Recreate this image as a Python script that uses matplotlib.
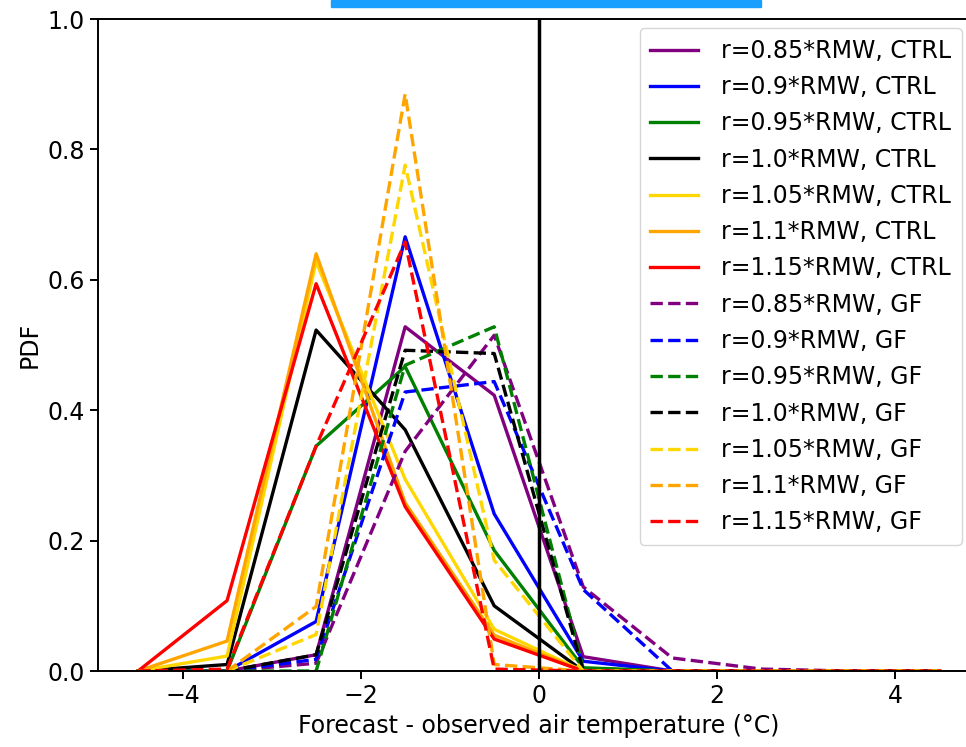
import numpy as np
import matplotlib
matplotlib.use("Agg")
import matplotlib.pyplot as plt
from matplotlib.patches import Rectangle

# bin centres (degC)
bins = [-4.5, -3.5, -2.5, -1.5, -0.5, 0.5, 1.5, 2.5, 3.5, 4.5]

radii = ["0.85", "0.9", "0.95", "1.0", "1.05", "1.1", "1.15"]
colors = ["purple", "blue", "green", "black", "gold", "orange", "red"]

# CTRL pdfs
ctrl_085 = [0.0, 0.0, 0.025, 0.528, 0.423, 0.022, 0.0, 0.0, 0.0, 0.0]
ctrl_090 = [0.0, 0.0, 0.076, 0.666, 0.241, 0.015, 0.0, 0.0, 0.0, 0.0]
ctrl_095 = [0.0, 0.0, 0.345, 0.467, 0.185, 0.005, 0.0, 0.0, 0.0, 0.0]
ctrl_100 = [0.0, 0.010, 0.523, 0.370, 0.100, 0.0, 0.0, 0.0, 0.0, 0.0]
ctrl_105 = [0.0, 0.023, 0.628, 0.294, 0.064, 0.0, 0.0, 0.0, 0.0, 0.0]
ctrl_110 = [0.0, 0.046, 0.640, 0.258, 0.055, 0.0, 0.0, 0.0, 0.0, 0.0]
ctrl_115 = [0.0, 0.108, 0.594, 0.252, 0.049, 0.0, 0.0, 0.0, 0.0, 0.0]

# GF pdfs
gf_085 = [0.0, 0.0, 0.012, 0.337, 0.515, 0.129, 0.020, 0.003, 0.0, 0.0]
gf_090 = [0.0, 0.0, 0.018, 0.428, 0.444, 0.125, 0.0, 0.0, 0.0, 0.0]
gf_095 = [0.0, 0.0, 0.0, 0.469, 0.528, 0.004, 0.0, 0.0, 0.0, 0.0]
gf_100 = [0.0, 0.0, 0.025, 0.492, 0.487, 0.0, 0.0, 0.0, 0.0, 0.0]
gf_105 = [0.0, 0.0, 0.056, 0.776, 0.170, 0.0, 0.0, 0.0, 0.0, 0.0]
gf_110 = [0.0, 0.0, 0.099, 0.885, 0.010, 0.0, 0.0, 0.0, 0.0, 0.0]
gf_115 = [0.0, 0.003, 0.345, 0.658, 0.003, 0.0, 0.0, 0.0, 0.0, 0.0]

ctrl = [ctrl_085, ctrl_090, ctrl_095, ctrl_100, ctrl_105, ctrl_110, ctrl_115]
gf = [gf_085, gf_090, gf_095, gf_100, gf_105, gf_110, gf_115]

plt.rcParams['font.family'] = ['DejaVu Sans']
fs = 17

fig = plt.figure(figsize=(9.66, 7.47), dpi=100)
ax = fig.add_axes([0.1014, 0.1017, 0.9126, 0.8728])

for r, c, y in zip(radii, colors, ctrl):
    ax.plot(bins, y, color=c, lw=2.4, label="r=%s*RMW, CTRL" % r)
for r, c, y in zip(radii, colors, gf):
    ax.plot(bins, y, color=c, lw=2.4, ls="--", label="r=%s*RMW, GF" % r)

ax.axvline(0, color="black", lw=2.5)

ax.set_xlim(-4.95, 4.95)
ax.set_ylim(0, 1.0)
ax.set_xticks([-4, -2, 0, 2, 4])
ax.set_yticks([0.0, 0.2, 0.4, 0.6, 0.8, 1.0])
ax.tick_params(labelsize=fs, width=1.4, length=6)
for s in ax.spines.values():
    s.set_linewidth(1.4)
ax.set_xlabel("Forecast - observed air temperature (°C)", fontsize=fs)
ax.set_ylabel("PDF", fontsize=fs)

ax.legend(loc="upper right", bbox_to_anchor=(0.980, 0.986), fontsize=fs,
          labelspacing=0.52, borderaxespad=0.0, borderpad=0.45,
          handletextpad=1.0, handlelength=2.0)

# blue bar cut at the top of the figure
fig.patches.append(Rectangle((331, 740), 430, 7, transform=None,
                             color="#1a9fff", zorder=5))

fig.savefig("out.png", dpi=100)
